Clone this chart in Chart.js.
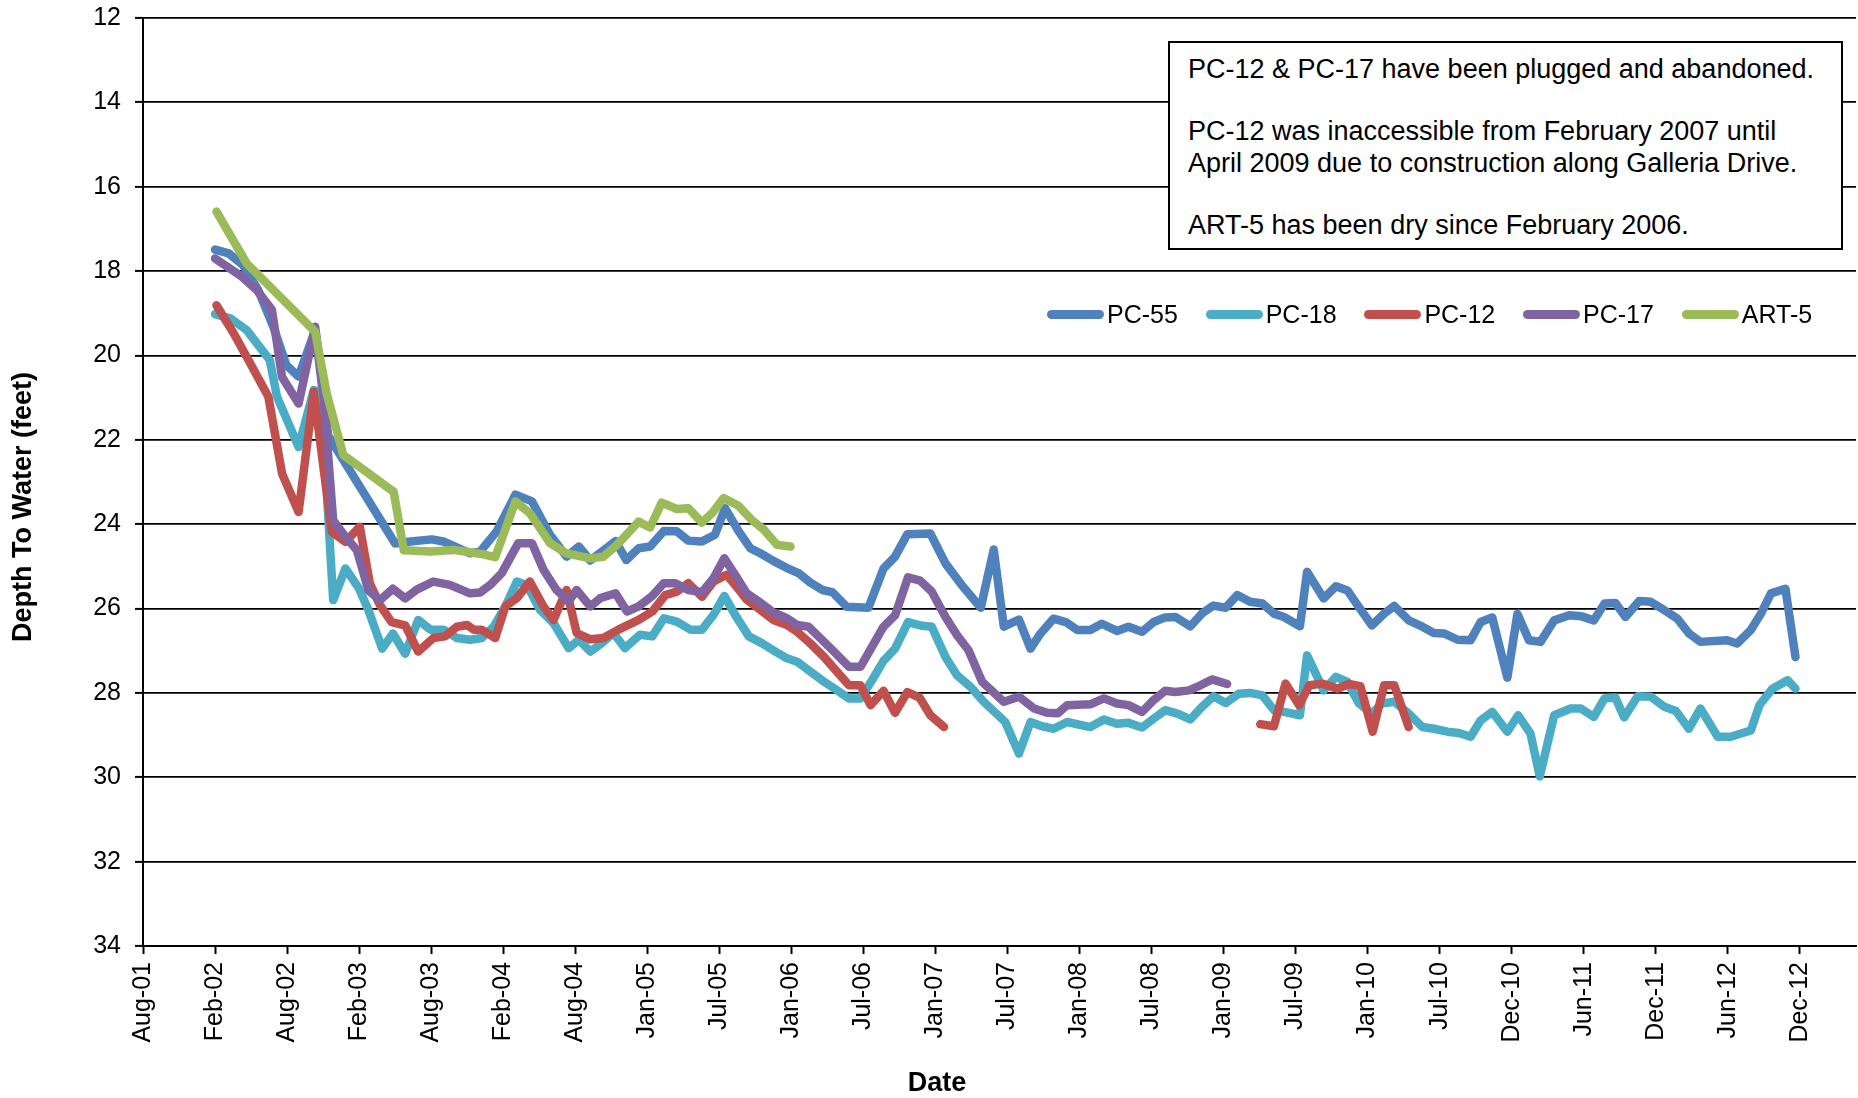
<!DOCTYPE html>
<html>
<head>
<meta charset="utf-8">
<script src="https://cdn.jsdelivr.net/npm/chart.js@4.4.1/dist/chart.umd.min.js"></script>
<style>
  html, body { margin: 0; padding: 0; background: #fff; }
  #wrap { position: relative; width: 1858px; height: 1098px; overflow: hidden; }
  canvas { position: absolute; left: 0; top: 0; }
  #note {
    position: absolute; left: 1168px; top: 41px; width: 671px; height: 205px;
    border: 2px solid #000; background: #fff; box-sizing: content-box;
    font-family: "Liberation Sans", Arial, sans-serif; font-size: 27px; line-height: 32px; color: #000;
  }
  #note p { margin: 0; padding-left: 18px; }
  #note p.first { margin-top: 10px; }
  #note p + p { margin-top: 30px; }
  #legend {
    position: absolute; left: 1047px; top: 299px; height: 30px; display: flex; align-items: center;
    font-family: "Liberation Sans", Arial, sans-serif; font-size: 25px; color: #000;
  }
  .item { display: flex; align-items: center; width: 158.7px; }
  .swatch { width: 57px; height: 9px; border-radius: 4.5px; margin-right: 3px; }
</style>
</head>
<body>
<div id="wrap">
  <canvas id="c" width="1858" height="1098"></canvas>
  <div id="note">
    <p class="first">PC-12 &amp; PC-17 have been plugged and abandoned.</p>
    <p>PC-12 was inaccessible from February 2007 until<br>April 2009 due to construction along Galleria Drive.</p>
    <p>ART-5 has been dry since February 2006.</p>
  </div>
  <div id="legend"></div>
</div>
<script>
// ---- tick labels (one per ~6-month interval of the date axis) ----
const tickLabels = ['Aug-01','Feb-02','Aug-02','Feb-03','Aug-03','Feb-04','Aug-04','Jan-05','Jul-05',
  'Jan-06','Jul-06','Jan-07','Jul-07','Jan-08','Jul-08','Jan-09','Jul-09','Jan-10','Jul-10',
  'Dec-10','Jun-11','Dec-11','Jun-12','Dec-12'];

const seriesNames = ['PC-55','PC-18','PC-12','PC-17','ART-5'];
const seriesColors = ['#4F81BD','#4BACC6','#C0504D','#8064A2','#9BBB59'];

const xTitle = 'Date';
const yTitle = 'Depth To Water (feet)';

// ---- series: [position on date axis (in tick intervals from Aug-01), depth to water (ft)] ----
const pc55 = [[1.00,17.49],[1.19,17.58],[1.39,17.86],[1.60,18.45],[1.81,19.32],[1.99,20.23],[2.16,20.50],
 [2.39,19.40],[2.57,21.90],[3.50,24.46],[3.71,24.41],[4.01,24.36],[4.17,24.41],[4.54,24.69],[4.68,24.65],
 [4.91,24.17],[5.17,23.30],[5.40,23.46],[5.65,24.25],[5.88,24.77],[6.05,24.53],[6.21,24.86],[6.37,24.65],
 [6.56,24.40],[6.71,24.85],[6.88,24.57],[7.04,24.53],[7.23,24.16],[7.41,24.17],[7.57,24.39],[7.76,24.41],
 [7.94,24.25],[8.08,23.62],[8.27,24.17],[8.43,24.57],[8.57,24.69],[8.75,24.87],[8.94,25.04],[9.10,25.16],
 [9.26,25.38],[9.43,25.56],[9.57,25.61],[9.77,25.96],[10.07,25.98],[10.28,25.05],[10.44,24.77],[10.61,24.24],
 [10.93,24.22],[11.14,24.93],[11.35,25.41],[11.63,25.98],[11.81,24.60],[11.95,26.43],[12.16,26.26],[12.32,26.95],
 [12.46,26.59],[12.64,26.24],[12.81,26.32],[12.97,26.51],[13.15,26.51],[13.31,26.36],[13.52,26.53],[13.68,26.43],
 [13.87,26.55],[14.03,26.32],[14.19,26.21],[14.33,26.20],[14.54,26.42],[14.70,26.12],[14.86,25.93],[15.03,25.98],
 [15.19,25.68],[15.37,25.84],[15.54,25.88],[15.70,26.12],[15.84,26.20],[16.06,26.42],[16.16,25.13],[16.39,25.76],
 [16.56,25.47],[16.72,25.57],[16.86,25.92],[17.06,26.40],[17.23,26.12],[17.37,25.94],[17.57,26.28],[17.76,26.43],
 [17.92,26.58],[18.06,26.59],[18.25,26.74],[18.43,26.75],[18.57,26.32],[18.73,26.21],[18.94,27.64],[19.08,26.13],
 [19.24,26.75],[19.40,26.79],[19.59,26.28],[19.80,26.16],[19.96,26.18],[20.14,26.28],[20.29,25.88],[20.44,25.87],
 [20.58,26.20],[20.77,25.82],[20.93,25.84],[21.12,26.04],[21.30,26.24],[21.46,26.59],[21.62,26.79],[21.99,26.75],
 [22.13,26.83],[22.32,26.51],[22.46,26.12],[22.60,25.64],[22.80,25.53],[22.94,27.15]];

const pc18 = [[1.00,19.02],[1.21,19.12],[1.44,19.40],[1.76,20.11],[1.86,20.98],[2.02,21.61],[2.16,22.17],
 [2.37,20.82],[2.44,20.86],[2.55,23.19],[2.64,25.80],[2.81,25.05],[3.00,25.53],[3.13,26.04],[3.32,26.95],
 [3.47,26.59],[3.64,27.07],[3.82,26.27],[3.99,26.50],[4.17,26.50],[4.36,26.70],[4.54,26.74],[4.70,26.70],
 [4.87,26.43],[5.03,25.95],[5.19,25.36],[5.33,25.44],[5.51,26.03],[5.70,26.35],[5.91,26.94],[6.05,26.74],
 [6.21,27.02],[6.37,26.82],[6.53,26.58],[6.69,26.94],[6.90,26.62],[7.07,26.66],[7.23,26.23],[7.41,26.31],
 [7.60,26.50],[7.76,26.50],[7.92,26.15],[8.07,25.70],[8.22,26.15],[8.41,26.66],[8.59,26.82],[8.78,27.02],
 [8.94,27.18],[9.08,27.26],[9.26,27.49],[9.45,27.73],[9.63,27.93],[9.80,28.13],[9.96,28.13],[10.12,27.70],
 [10.28,27.24],[10.44,26.95],[10.62,26.32],[10.79,26.40],[10.95,26.43],[11.14,27.15],[11.30,27.58],[11.49,27.86],
 [11.67,28.21],[11.97,28.69],[12.16,29.44],[12.32,28.69],[12.46,28.78],[12.64,28.85],[12.83,28.69],[13.15,28.81],
 [13.34,28.63],[13.52,28.73],[13.68,28.71],[13.87,28.82],[14.03,28.61],[14.19,28.41],[14.36,28.49],[14.54,28.63],
 [14.70,28.33],[14.86,28.08],[15.03,28.24],[15.21,28.02],[15.37,28.00],[15.54,28.06],[15.70,28.41],[15.84,28.45],
 [16.06,28.53],[16.16,27.11],[16.39,27.94],[16.56,27.62],[16.72,27.74],[16.88,28.25],[17.06,28.49],[17.20,28.25],
 [17.37,28.21],[17.57,28.49],[17.76,28.81],[17.92,28.85],[18.11,28.92],[18.27,28.95],[18.43,29.04],[18.57,28.65],
 [18.73,28.45],[18.94,28.92],[19.09,28.53],[19.26,28.96],[19.39,29.98],[19.59,28.53],[19.82,28.37],[19.96,28.37],
 [20.14,28.57],[20.29,28.13],[20.44,28.11],[20.56,28.58],[20.75,28.08],[20.93,28.09],[21.12,28.33],[21.28,28.43],
 [21.46,28.85],[21.62,28.37],[21.86,29.04],[22.04,29.04],[22.32,28.89],[22.44,28.29],[22.62,27.90],[22.83,27.70],
 [22.94,27.90]];

const pc12Early = [[1.02,18.81],[1.26,19.48],[1.49,20.19],[1.74,20.98],[1.93,22.80],[2.16,23.71],[2.37,20.86],
 [2.62,24.18],[2.81,24.42],[3.01,24.06],[3.15,25.41],[3.29,25.92],[3.45,26.32],[3.64,26.40],[3.82,27.02],
 [4.03,26.70],[4.19,26.66],[4.36,26.43],[4.50,26.39],[4.59,26.50],[4.70,26.50],[4.89,26.70],[5.03,25.95],
 [5.19,25.75],[5.37,25.36],[5.56,25.95],[5.70,26.27],[5.88,25.56],[6.02,26.58],[6.21,26.73],[6.39,26.70],
 [6.60,26.50],[6.88,26.27],[7.07,26.07],[7.25,25.68],[7.41,25.60],[7.57,25.40],[7.76,25.72],[7.92,25.36],
 [8.10,25.20],[8.22,25.44],[8.38,25.79],[8.57,26.03],[8.75,26.27],[8.94,26.39],[9.08,26.55],[9.26,26.82],
 [9.45,27.14],[9.63,27.49],[9.80,27.82],[9.96,27.82],[10.10,28.29],[10.28,27.95],[10.44,28.47],[10.61,27.98],
 [10.78,28.11],[10.93,28.53],[11.12,28.81]];
const pc12Late = [[15.51,28.74],[15.70,28.79],[15.86,27.78],[16.05,28.29],[16.19,27.82],[16.37,27.78],
 [16.58,27.90],[16.74,27.79],[16.90,27.84],[17.07,28.92],[17.23,27.82],[17.37,27.82],[17.57,28.81]];

const pc17 = [[1.00,17.70],[1.37,18.13],[1.58,18.45],[1.79,18.92],[1.93,20.51],[2.16,21.14],[2.39,19.32],
 [2.50,20.82],[2.64,23.91],[2.81,24.30],[2.97,24.62],[3.13,25.57],[3.29,25.80],[3.47,25.53],[3.64,25.76],
 [3.80,25.55],[4.03,25.36],[4.26,25.44],[4.54,25.64],[4.68,25.62],[4.82,25.44],[4.98,25.16],[5.21,24.45],
 [5.40,24.45],[5.56,25.08],[5.74,25.56],[5.91,25.83],[6.02,25.56],[6.21,25.95],[6.35,25.75],[6.56,25.64],
 [6.72,26.07],[6.88,25.95],[7.07,25.70],[7.23,25.40],[7.39,25.40],[7.57,25.56],[7.76,25.61],[7.92,25.28],
 [8.07,24.81],[8.22,25.20],[8.38,25.64],[8.57,25.86],[8.75,26.09],[8.94,26.23],[9.08,26.39],[9.24,26.43],
 [9.40,26.70],[9.59,27.02],[9.80,27.38],[9.96,27.38],[10.28,26.43],[10.44,26.16],[10.62,25.26],[10.79,25.34],
 [10.95,25.60],[11.14,26.20],[11.30,26.63],[11.46,26.99],[11.65,27.74],[11.95,28.21],[12.16,28.09],[12.37,28.37],
 [12.55,28.47],[12.70,28.48],[12.83,28.29],[13.15,28.27],[13.34,28.13],[13.52,28.25],[13.68,28.29],[13.87,28.45],
 [14.03,28.17],[14.19,27.95],[14.33,27.98],[14.52,27.94],[14.68,27.82],[14.84,27.68],[15.05,27.79]];

const art5 = [[1.02,16.59],[1.44,17.82],[2.39,19.44],[2.55,20.90],[2.78,22.36],[3.48,23.23],[3.62,24.62],
 [3.99,24.65],[4.31,24.61],[4.68,24.70],[4.89,24.78],[5.17,23.46],[5.37,23.74],[5.65,24.45],[5.88,24.69],
 [6.21,24.81],[6.39,24.77],[6.58,24.49],[6.88,23.94],[7.04,24.08],[7.20,23.49],[7.41,23.64],[7.57,23.62],
 [7.76,23.96],[7.90,23.74],[8.06,23.38],[8.27,23.57],[8.45,23.90],[8.62,24.13],[8.80,24.49],[8.99,24.53]];

// ---- build chart ----
const toXY = arr => arr.map(p => ({ x: p[0], y: p[1] }));
const pc12 = [...toXY(pc12Early), { x: 13.3, y: null }, ...toXY(pc12Late)];
const seriesData = [toXY(pc55), toXY(pc18), pc12, toXY(pc17), toXY(art5)];

const FONT = '"Liberation Sans", Arial, sans-serif';

const datasets = seriesNames.map((name, i) => ({
  label: name,
  data: seriesData[i],
  borderColor: seriesColors[i],
  backgroundColor: seriesColors[i],
  borderWidth: 8.5,
  pointRadius: 0,
  tension: 0,
  fill: false,
  spanGaps: false,
  borderCapStyle: 'round',
  borderJoinStyle: 'round',
  order: seriesNames.length - i
}));

const axisTitles = {
  id: 'axisTitles',
  afterDraw(chart) {
    const ctx = chart.ctx;
    ctx.save();
    ctx.fillStyle = '#000';
    ctx.font = 'bold 27px ' + FONT;
    ctx.textAlign = 'center';
    ctx.textBaseline = 'middle';
    ctx.fillText(xTitle, 937, 1084);
    ctx.translate(24, 507);
    ctx.rotate(-Math.PI / 2);
    ctx.fillText(yTitle, 0, 0);
    ctx.restore();
  }
};

new Chart(document.getElementById('c'), {
  type: 'line',
  data: { datasets },
  plugins: [axisTitles],
  options: {
    responsive: false,
    animation: false,
    devicePixelRatio: 1,
    layout: { padding: { top: 18, right: 2, left: 0, bottom: 0 } },
    plugins: { legend: { display: false }, tooltip: { enabled: false } },
    scales: {
      x: {
        type: 'linear',
        min: 0,
        max: 23.78,
        afterBuildTicks: s => { s.ticks = tickLabels.map((_, i) => ({ value: i })); },
        afterFit: s => { s.height = 152; s.paddingLeft = 0; s.paddingRight = 0; },
        ticks: {
          autoSkip: false,
          maxRotation: 90,
          minRotation: 90,
          padding: 8,
          color: '#000',
          font: { family: FONT, size: 25 },
          callback: v => tickLabels[v] ?? ''
        },
        grid: { drawOnChartArea: false, drawTicks: true, tickLength: 8, tickColor: '#000', tickWidth: 2 },
        border: { display: true, color: '#000', width: 2 }
      },
      y: {
        reverse: true,
        min: 12,
        max: 34,
        afterFit: s => { s.width = 143; s.paddingTop = 0; s.paddingBottom = 0; },
        ticks: {
          stepSize: 2,
          padding: 14,
          color: '#000',
          font: { family: FONT, size: 25 }
        },
        grid: { color: '#000', lineWidth: 1.8, tickLength: 8, tickColor: '#000', tickWidth: 2 },
        border: { display: true, color: '#000', width: 2 }
      }
    }
  }
});

// ---- legend (built from series names/colours) ----
const legend = document.getElementById('legend');
seriesNames.forEach((name, i) => {
  const item = document.createElement('div');
  item.className = 'item';
  const sw = document.createElement('span');
  sw.className = 'swatch';
  sw.style.background = seriesColors[i];
  const lab = document.createElement('span');
  lab.textContent = name;
  item.appendChild(sw);
  item.appendChild(lab);
  legend.appendChild(item);
});
</script>
</body>
</html>
